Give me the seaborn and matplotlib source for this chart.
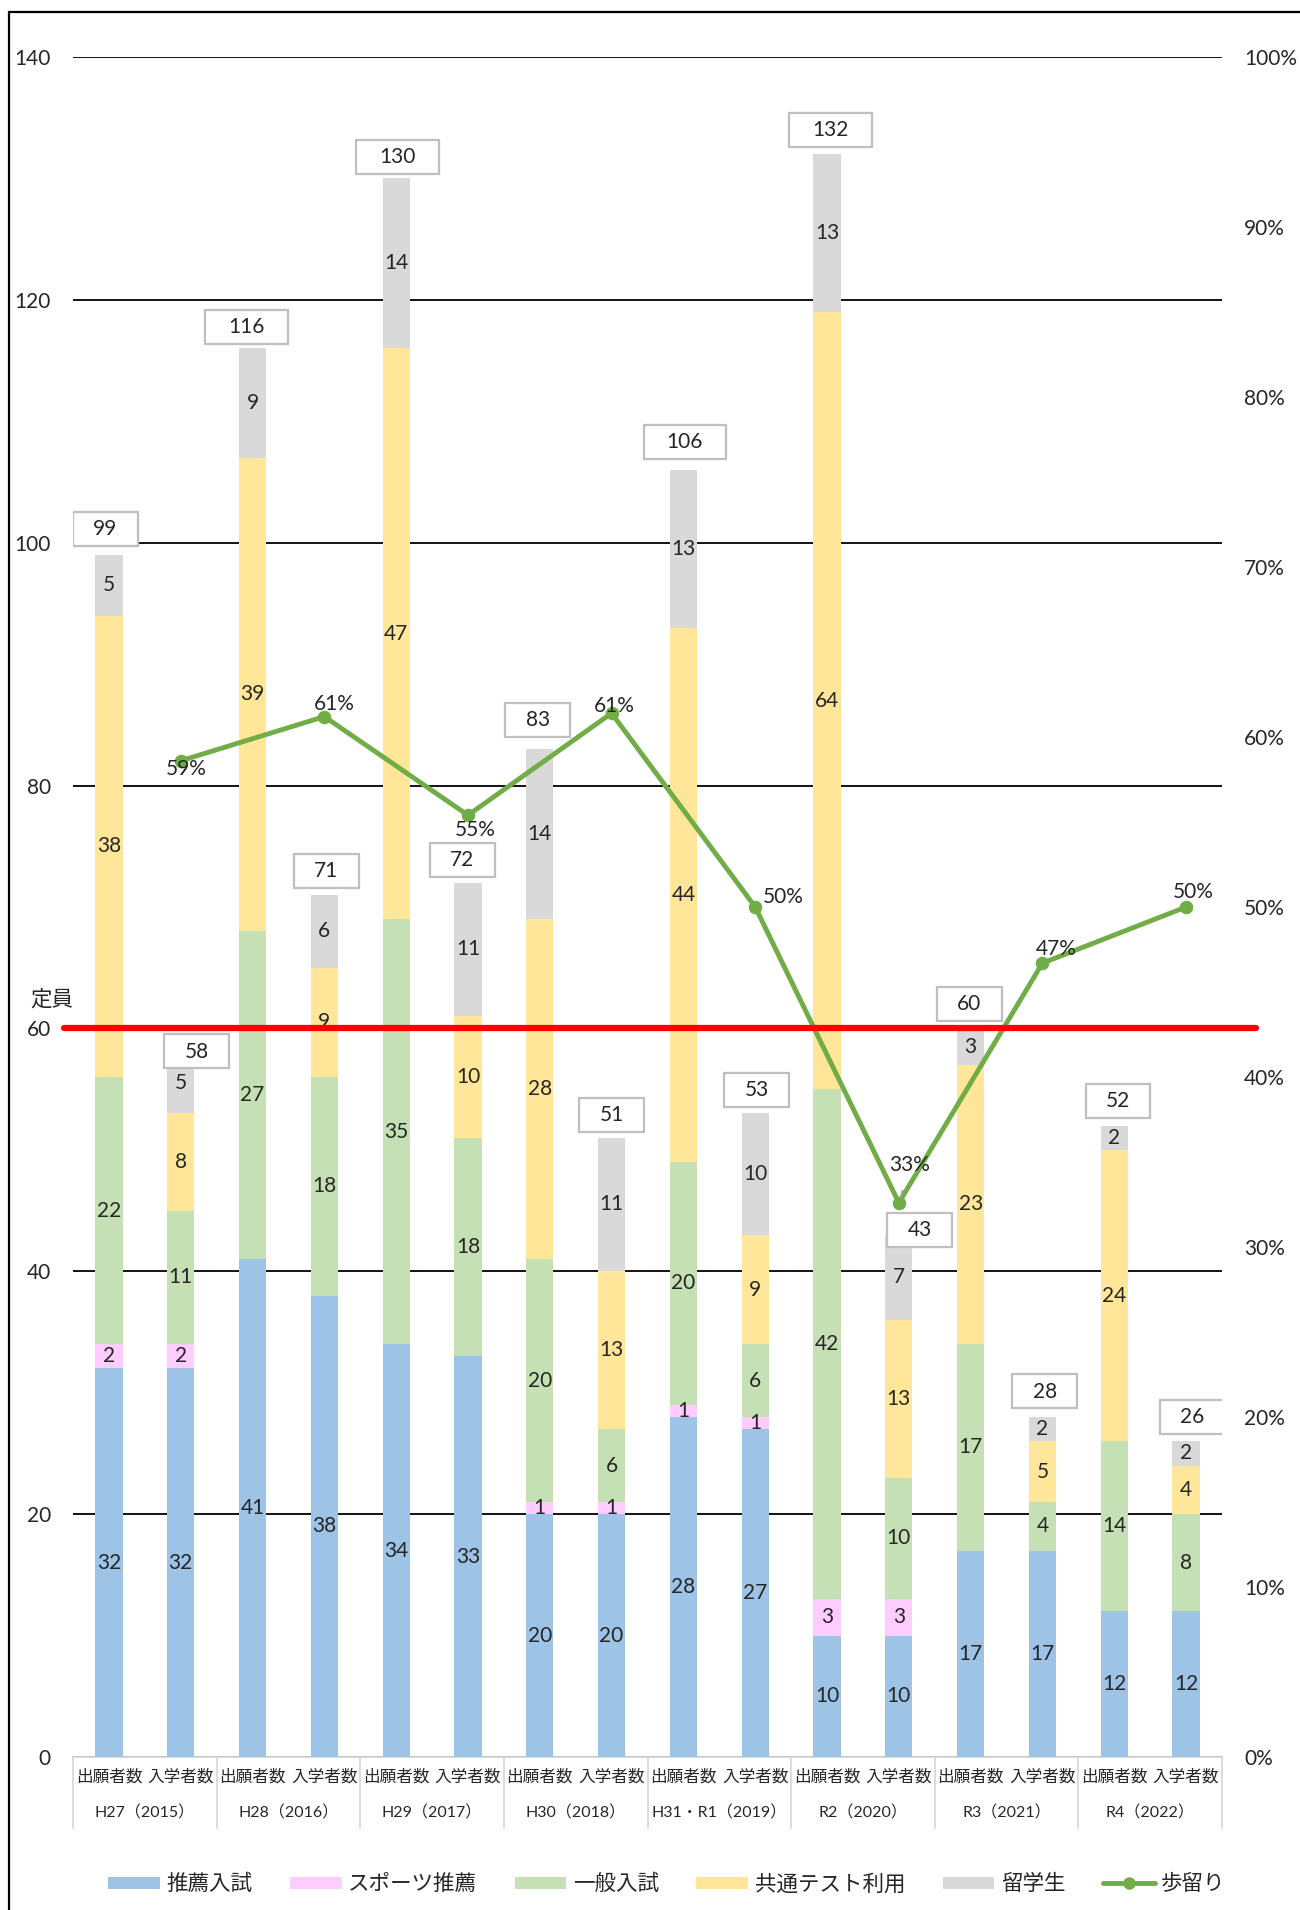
import numpy as np
import pandas as pd
import matplotlib
matplotlib.use("Agg")
import matplotlib.pyplot as plt
import matplotlib.transforms as mtransforms
from matplotlib.patches import Patch, Rectangle
from matplotlib.lines import Line2D
import seaborn as sns

# ---- data ----
years = ["H27（2015）", "H28（2016）", "H29（2017）", "H30（2018）",
         "H31・R1（2019）", "R2（2020）", "R3（2021）", "R4（2022）"]
kinds = ["出願者数", "入学者数"]

suisen = [32, 32, 41, 38, 34, 33, 20, 20, 28, 27, 10, 10, 17, 17, 12, 12]
sports = [2, 2, 0, 0, 0, 0, 1, 1, 1, 1, 3, 3, 0, 0, 0, 0]
ippan = [22, 11, 27, 18, 35, 18, 20, 6, 20, 6, 42, 10, 17, 4, 14, 8]
kyotsu = [38, 8, 39, 9, 47, 10, 28, 13, 44, 9, 64, 13, 23, 5, 24, 4]
ryugaku = [5, 5, 9, 6, 14, 11, 14, 11, 13, 10, 13, 7, 3, 2, 2, 2]
totals = [99, 58, 116, 71, 130, 72, 83, 51, 106, 53, 132, 43, 60, 28, 52, 26]
budomari = [0.586, 0.612, 0.554, 0.614, 0.500, 0.326, 0.467, 0.500]
teiin = 60

layer_names = ["推薦入試", "スポーツ推薦", "一般入試", "共通テスト利用", "留学生"]
layer_colors = ["#9DC3E6", "#FFCCFF", "#C5E0B4", "#FFE699", "#D9D9D9"]
line_color = "#70AD47"

# label placement tweaks (style only)
box_dx = [-0.05, 0.22, -0.08, 0.03, 0.02, -0.08, -0.03, 0.0,
          0.02, 0.02, 0.05, 0.29, -0.02, 0.03, 0.05, 0.08]
box_dy = [2.1, 0.1, 1.8, 2.0, 1.8, 1.9, 2.4, 1.9,
          2.3, 1.9, 2.0, 0.4, 2.0, 2.1, 2.0, 2.0]
pct_offsets = [(4, -6), (7, 9), (5, -11), (2, 5), (20, 7), (8, 27), (10, 10), (5, 11)]

sns.set_style("white")
plt.rcParams['font.family'] = ['Lato', 'Noto Sans CJK JP', 'DejaVu Sans']

W, H = 1300, 1910
fig = plt.figure(figsize=(W / 100, H / 100), dpi=100)
ax = fig.add_axes([73 / W, 1 - 1757 / H, (1222 - 73) / W, (1757 - 57) / H])

bar_ids = [f"{y}_{k}" for y in years for k in kinds]
stack = np.array([suisen, sports, ippan, kyotsu, ryugaku])
cum = np.cumsum(stack, axis=0)

df = pd.DataFrame({"bar": bar_ids})
for i, name in enumerate(layer_names):
    df[name] = cum[i]

# stacked bars: draw cumulative heights from the top layer down
for i in reversed(range(len(layer_names))):
    sns.barplot(data=df, x="bar", y=layer_names[i], order=bar_ids,
                color=layer_colors[i], saturation=1, width=0.38,
                linewidth=0, ax=ax, zorder=2)

# segment labels
for j in range(len(bar_ids)):
    for i in range(len(layer_names)):
        v = stack[i][j]
        if v > 0:
            ax.text(j, cum[i][j] - v / 2, str(v), ha="center", va="center",
                    fontsize=15, zorder=5)

# total boxes
for j, t in enumerate(totals):
    cx = j + box_dx[j]
    cy = t + box_dy[j]
    bw = 0.4 + 0.25 * len(str(t))
    bh = 2.8
    ax.add_patch(Rectangle((cx - bw / 2, cy - bh / 2), bw, bh, facecolor="white",
                           edgecolor="#BFBFBF", lw=1.6, zorder=6))
    ax.text(cx, cy, str(t), ha="center", va="center", fontsize=15, zorder=7)

ax.set_xlim(-0.5, len(bar_ids) - 0.5)
ax.set_ylim(0, 140)
ax.set_yticks(range(0, 141, 20))
ax.set_yticklabels([str(v) for v in range(0, 141, 20)], fontsize=15)
ax.tick_params(axis="y", length=0, pad=16)
ax.set_xticks(range(len(bar_ids)))
ax.set_xticklabels([k for y in years for k in kinds], fontsize=12)
ax.tick_params(axis="x", length=0, pad=8)
ax.set_xlabel("")
ax.set_ylabel("")
ax.yaxis.grid(True, color="black", lw=1.3)
ax.set_axisbelow(True)
for s in ["top", "left", "right"]:
    ax.spines[s].set_visible(False)
ax.spines["bottom"].set_color("#D9D9D9")
ax.spines["bottom"].set_linewidth(1.3)
ax.spines["bottom"].set_zorder(1)

# category separators and year labels
trans_xa = mtransforms.blended_transform_factory(ax.transData, ax.transAxes)
for g in range(len(years) + 1):
    ax.plot([2 * g - 0.5, 2 * g - 0.5], [0, -0.0418], transform=trans_xa,
            color="#D9D9D9", lw=1.3, clip_on=False)
for g, y in enumerate(years):
    ax.text(2 * g + 0.5, -0.0329, y, transform=trans_xa, ha="center",
            va="center", fontsize=11.5)

# yield line on the right axis
ax2 = ax.twinx()
ax2.set_ylim(0, 1)
line_x = [2 * g + 1 for g in range(len(years))]
sns.lineplot(x=line_x, y=budomari, ax=ax2, color=line_color, lw=3.5,
             marker="o", markersize=9, markeredgecolor=line_color, zorder=4)
for k, (xv, yv, (ox, oy)) in enumerate(zip(line_x, budomari, pct_offsets)):
    leader = dict(arrowstyle="-", color="#A6A6A6", lw=1.2, shrinkA=9, shrinkB=4) \
        if oy > 20 else None
    ax2.annotate(f"{yv:.0%}", (xv, yv), xytext=(ox, oy), textcoords="offset points",
                 ha="center", va="center", fontsize=15, zorder=8,
                 arrowprops=leader)
ax2.set_yticks(np.arange(0, 1.01, 0.1))
ax2.set_yticklabels([f"{int(round(v * 100))}%" for v in np.arange(0, 1.01, 0.1)],
                    fontsize=15)
ax2.tick_params(axis="y", length=0, pad=16)
for s in ax2.spines.values():
    s.set_visible(False)

# capacity line
trans_ad = mtransforms.blended_transform_factory(ax.transAxes, ax.transData)
red = Line2D([-0.0078, 1.03], [teiin, teiin], transform=trans_ad, color="#FF0000",
             lw=4.5, clip_on=False, zorder=9)
ax2.add_line(red)
fig.text(30 / W, 1 - 999 / H, "定員", fontsize=15.5, va="center", ha="left")

# legend
handles = [Patch(facecolor=c, edgecolor="none") for c in layer_colors]
handles.append(Line2D([0], [0], color=line_color, lw=3.5, marker="o", markersize=8))
fig.legend(handles, layer_names + ["歩留り"], loc="center",
           bbox_to_anchor=(0.513, 1 - 1884 / H), ncol=6, frameon=False,
           fontsize=15.5, handlelength=2.4, handleheight=0.5, handletextpad=0.3,
           columnspacing=1.75)

# outer frame (left/top edges visible)
fig.add_artist(Rectangle((9 / W, -1), 2, 2 - 12 / H, transform=fig.transFigure,
                         fill=False, ec="black", lw=1.6))

fig.savefig("out.png", dpi=100)
